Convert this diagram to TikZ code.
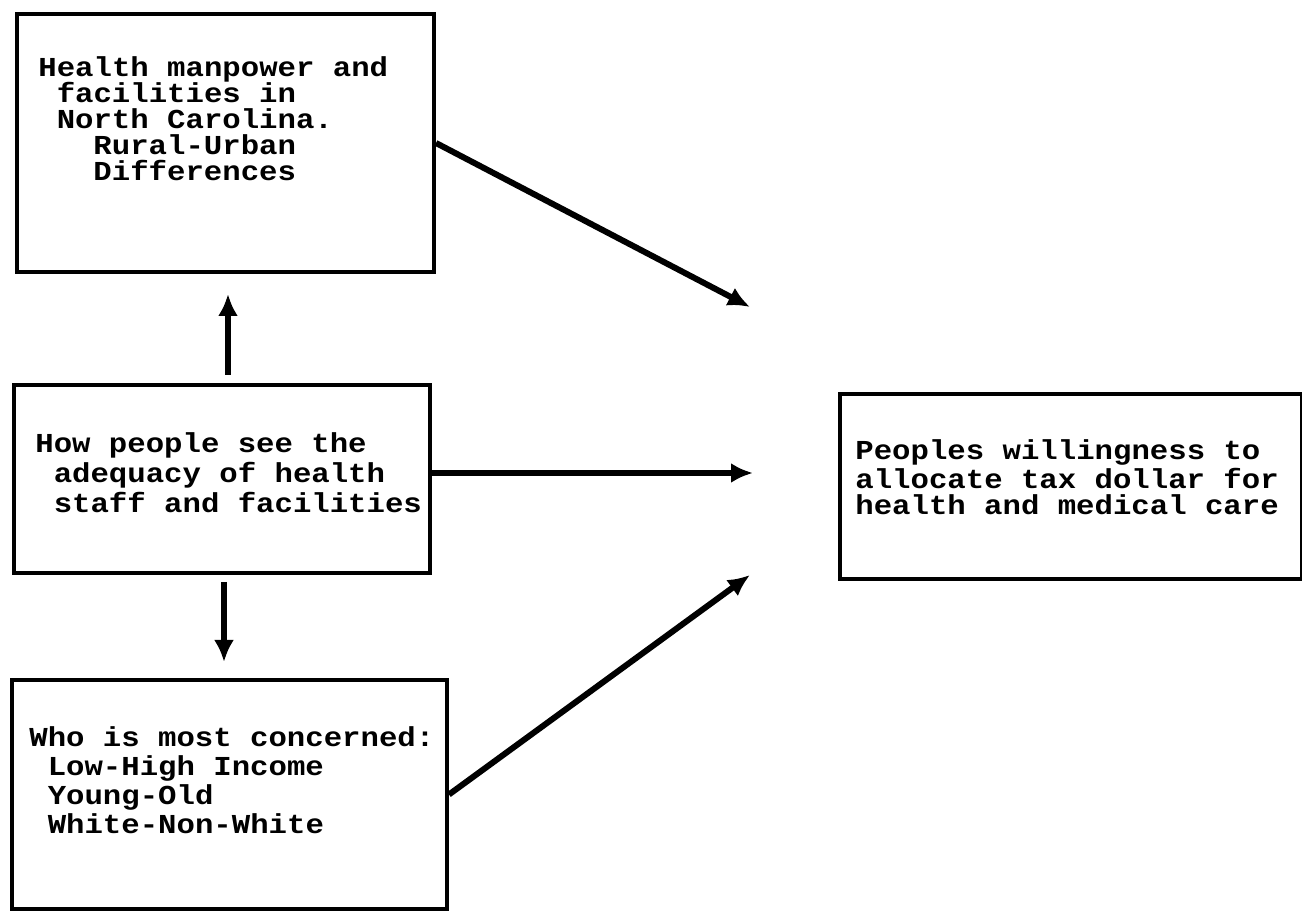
\documentclass[tikz,border=0pt]{standalone}
\usepackage{fontspec}
\setmonofont{Liberation Mono}[BoldFont={Liberation Mono Bold}, FakeStretch=1.12]
\usetikzlibrary{arrows.meta}
\newcommand{\tyfont}[1]{\ttfamily\bfseries\fontsize{13.7}{#1}\selectfont}
\newcommand{\SP}{\hspace*{9.18pt}}
\begin{document}
\begin{tikzpicture}[x=0.5pt,y=-0.5pt,
  box/.style={draw, line width=2pt, inner sep=0pt, anchor=north west},
  txt/.style={anchor=base west, inner sep=0pt, align=left, text width=240pt,
              font=\tyfont{13}},
  arr/.style={line width=3pt, -{Latex[length=11pt,width=10pt]}}]
\useasboundingbox (0,0) rectangle (1302,913);
% boxes
\node[box, minimum width=208.5pt, minimum height=129pt] (b1) at (15,12) {};
\node[box, minimum width=208pt, minimum height=94pt] (b2) at (12,383) {};
\node[box, minimum width=217.5pt, minimum height=114.5pt] (b3) at (10,678) {};
\node[box, minimum width=231pt, minimum height=92.5pt] (b4) at (838,392) {};
% texts
\node[txt] (t1) at (38,77) {Health\SP manpower\SP and\\\SP facilities\SP in\\\SP North\SP Carolina.\\\SP\SP\SP Rural-Urban\\\SP\SP\SP Differences};
\node[txt, font=\tyfont{15}] (t2) at (35,453) {How\SP people\SP see\SP the\\\SP adequacy\SP of\SP health\\\SP staff\SP and\SP facilities};
\node[txt, font=\tyfont{14.5}] (t3) at (29,747) {Who\SP is\SP most\SP concerned:\\\SP Low-High\SP Income\\\SP Young-Old\\\SP White-Non-White};
\node[txt] (t4) at (855,460) {Peoples\SP willingness\SP to\\allocate\SP tax\SP dollar\SP for\\health\SP and\SP medical\SP care};
% arrow tips (free ends)
\coordinate (e1) at (750,307);
\coordinate (e2) at (753,473);
\coordinate (e3) at (750,575);
% connectors
\draw[arr] (b1.east) -- (e1);
\draw[arr] (b2.east |- e2) -- (e2);
\draw[arr] (b3.east) -- (e3);
\draw[arr, shorten <=4pt, shorten >=10pt] ([xshift=3pt]b2.north) -- ([xshift=3pt]b2.north |- b1.south);
\draw[arr, shorten <=3.5pt, shorten >=8pt] ([xshift=1pt]b2.south) -- ([xshift=1pt]b2.south |- b3.north);
\end{tikzpicture}
\end{document}
